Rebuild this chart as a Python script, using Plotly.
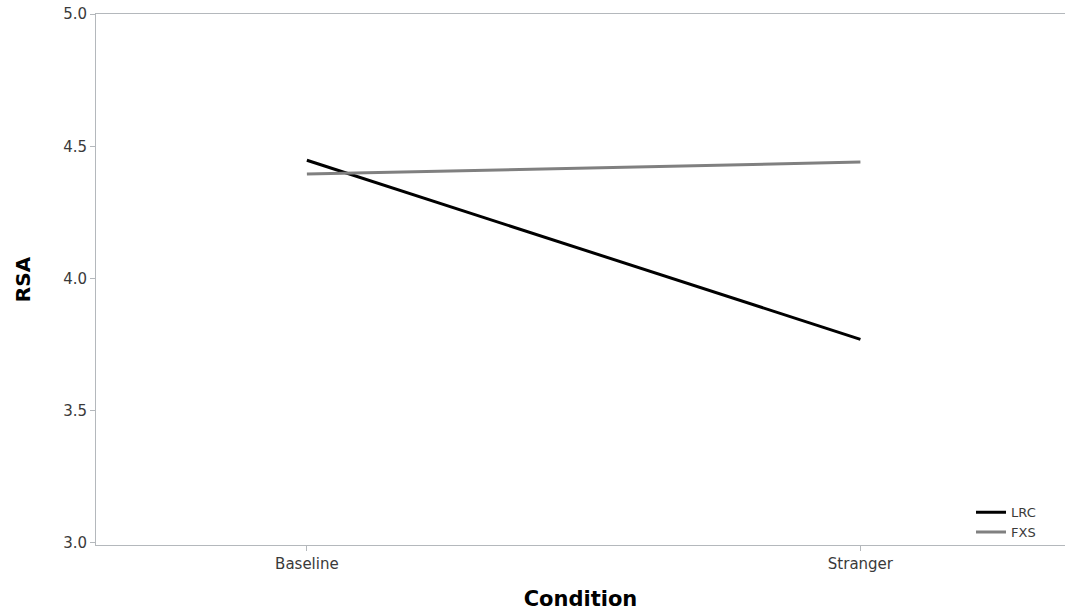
import plotly.graph_objects as go

conditions = ["Baseline", "Stranger"]
lrc = [4.447, 3.770]
fxs = [4.395, 4.440]
y_ticks = [3.0, 3.5, 4.0, 4.5, 5.0]

fig = go.Figure()
fig.add_trace(go.Scatter(x=conditions, y=lrc, mode="lines", name="LRC",
                         line=dict(color="#000000", width=3)))
fig.add_trace(go.Scatter(x=conditions, y=fxs, mode="lines", name="FXS",
                         line=dict(color="#808080", width=3)))

axis_col = "#b4b8bc"
tick_font = dict(family="DejaVu Sans, sans-serif", size=15, color="#3a3a3a")
fig.update_layout(
    width=1065, height=615,
    margin=dict(l=96, r=0, t=14, b=70),
    paper_bgcolor="white", plot_bgcolor="white",
    font=dict(family="DejaVu Sans, sans-serif", color="#3a3a3a", size=15),
    showlegend=True,
    legend=dict(x=0.903, y=0.09, xanchor="left", yanchor="top",
                bgcolor="rgba(0,0,0,0)", font=dict(family="DejaVu Sans, sans-serif", size=13, color="#3a3a3a"),
                tracegroupgap=0, itemwidth=30),
    xaxis=dict(type="category", range=[-0.381, 1.3696], showgrid=False,
               showline=True, linecolor=axis_col, linewidth=1, mirror=True,
               ticks="outside", ticklen=5, tickcolor=axis_col, tickfont=tick_font,
               title=dict(text="<b>Condition</b>",
                          font=dict(family="DejaVu Sans, sans-serif", size=21, color="#000000"),
                          standoff=19),
               zeroline=False),
    yaxis=dict(range=[2.9924, 5.0], showgrid=False, showline=True, linecolor=axis_col,
               linewidth=1, ticks="outside", ticklen=5, tickcolor=axis_col, tickfont=tick_font,
               tickvals=y_ticks, tickformat=".1f",
               title=dict(text="<b>RSA</b>",
                          font=dict(family="DejaVu Sans, sans-serif", size=20, color="#000000"),
                          standoff=27),
               zeroline=False),
)
fig.write_html("out.html", config={"displayModeBar": False},
               post_script="document.body.style.margin='0';document.body.style.overflow='hidden';")
